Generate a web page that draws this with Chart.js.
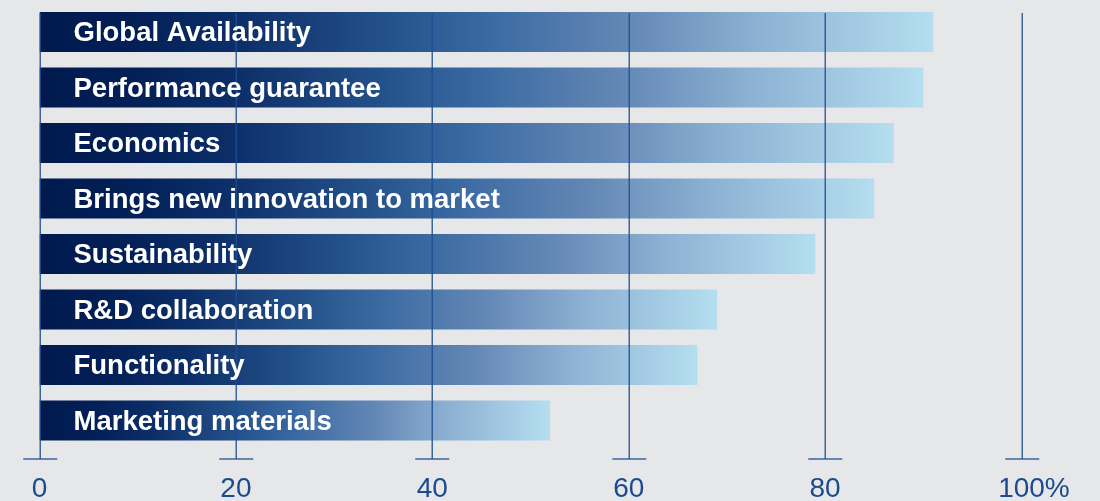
<!DOCTYPE html>
<html lang="en">
<head>
  <meta charset="UTF-8">
  <title>Supplier selection criteria</title>
  <script src="https://cdn.jsdelivr.net/npm/chart.js"></script>
  <style>
    html, body {
      margin: 0;
      padding: 0;
      background: #e6e7e9;
    }
    #chart {
      display: block;
    }
  </style>
</head>
<body>
  <canvas id="chart" width="1100" height="501"></canvas>

  <script>
    // Criteria and share of answers, percent
    const criteria = [
      'Global Availability',
      'Performance guarantee',
      'Economics',
      'Brings new innovation to market',
      'Sustainability',
      'R&D collaboration',
      'Functionality',
      'Marketing materials'
    ];
    const shares = [91, 90, 87, 85, 79, 69, 67, 52];
    const tickValues = [0, 20, 40, 60, 80, 100];
    const tickLabels = ['0', '20', '40', '60', '80', '100'];

    const gridColor = 'rgba(30, 78, 146, 0.85)';
    const tickTextColor = '#1b4b8e';

    // Each bar gets its own gradient, dark navy at zero to pale blue at its end
    function barGradient(context) {
      const chart = context.chart;
      const xScale = chart.scales.x;
      if (!chart.chartArea || !xScale) return '#1f4a88';
      const x0 = xScale.getPixelForValue(0);
      const x1 = xScale.getPixelForValue(context.raw);
      const g = chart.ctx.createLinearGradient(x0, 0, x1, 0);
      g.addColorStop(0, '#001a4e');
      g.addColorStop(0.1, '#021f56');
      g.addColorStop(0.22, '#0c2e68');
      g.addColorStop(0.38, '#234f88');
      g.addColorStop(0.5, '#3a69a2');
      g.addColorStop(0.66, '#6488b5');
      g.addColorStop(0.8, '#8cb0d2');
      g.addColorStop(1, '#b5def0');
      return g;
    }

    // Vertical grid lines over the bars, tick marks and tick labels
    const gridPlugin = {
      id: 'gridOverlay',
      afterDatasetsDraw(chart) {
        const ctx = chart.ctx;
        const xScale = chart.scales.x;
        const bars = chart.getDatasetMeta(0).data;
        const top = bars[0].y - bars[0].height / 2 + 1;
        const tickY = 459;

        ctx.save();
        ctx.strokeStyle = gridColor;
        ctx.lineWidth = 1.5;
        tickValues.forEach((v) => {
          const x = Math.round(xScale.getPixelForValue(v)) + 0.25;
          ctx.beginPath();
          ctx.moveTo(x, top);
          ctx.lineTo(x, tickY);
          ctx.stroke();
          ctx.beginPath();
          ctx.moveTo(x - 17, tickY);
          ctx.lineTo(x + 17, tickY);
          ctx.stroke();
        });

        ctx.fillStyle = tickTextColor;
        ctx.font = '28px "Liberation Sans", Arial, sans-serif';
        ctx.textBaseline = 'alphabetic';
        tickValues.forEach((v, i) => {
          const x = xScale.getPixelForValue(v);
          const w = ctx.measureText(tickLabels[i]).width;
          ctx.textAlign = 'left';
          ctx.fillText(tickLabels[i], x - w / 2, 497);
          if (i === tickValues.length - 1) {
            ctx.fillText('%', x + w / 2, 497);
          }
        });
        ctx.restore();
      }
    };

    // Criterion names written inside the bars
    const barLabelPlugin = {
      id: 'barLabels',
      afterDatasetsDraw(chart) {
        const ctx = chart.ctx;
        const bars = chart.getDatasetMeta(0).data;
        ctx.save();
        ctx.fillStyle = '#ffffff';
        ctx.font = 'bold 27.5px "Liberation Sans", Arial, sans-serif';
        ctx.textAlign = 'left';
        ctx.textBaseline = 'alphabetic';
        bars.forEach((bar, i) => {
          ctx.fillText(criteria[i], bar.base + 34, bar.y + 9);
        });
        ctx.restore();
      }
    };

    const ctx = document.getElementById('chart').getContext('2d');
    new Chart(ctx, {
      type: 'bar',
      data: {
        labels: criteria,
        datasets: [{
          data: shares,
          backgroundColor: barGradient,
          borderWidth: 0,
          barPercentage: 0.72,
          categoryPercentage: 1
        }]
      },
      options: {
        indexAxis: 'y',
        responsive: false,
        animation: false,
        layout: {
          padding: { left: 39.5, right: 78.5, top: 4.25, bottom: 52.75 }
        },
        scales: {
          x: { display: false, min: 0, max: 100 },
          y: { display: false }
        },
        plugins: {
          legend: { display: false },
          tooltip: { enabled: false }
        }
      },
      plugins: [gridPlugin, barLabelPlugin]
    });
  </script>
</body>
</html>
